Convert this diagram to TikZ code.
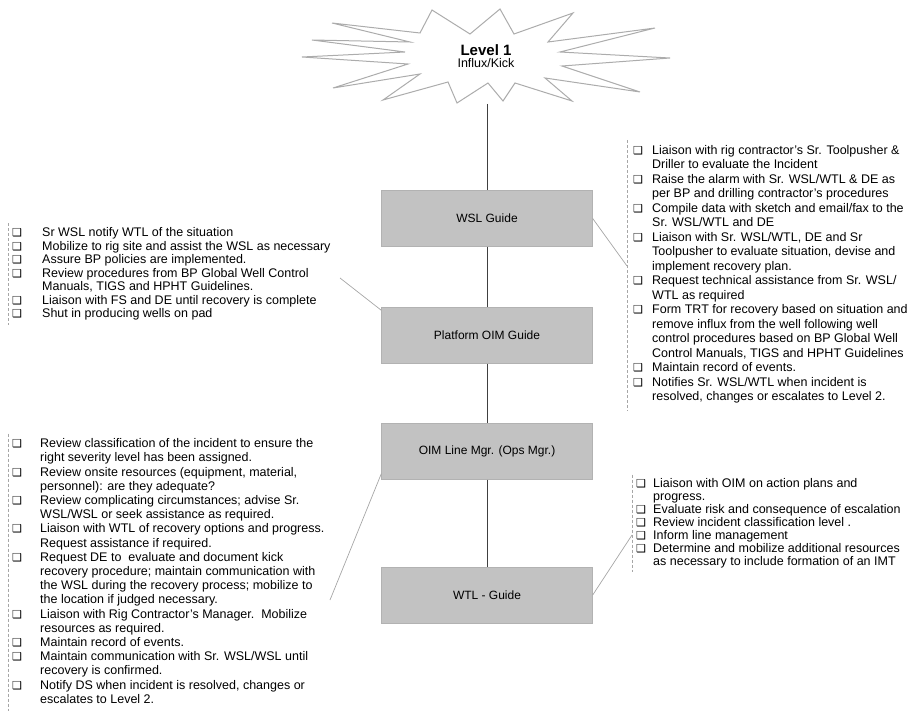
\documentclass[tikz,border=0pt]{standalone}
\usepackage{fontspec}
\setmainfont{Liberation Sans}
\newfontfamily\dejavu{DejaVu Sans}
\newcommand{\cb}{{\dejavu\fontsize{11}{11}\selectfont ❑}}
\begin{document}
\begin{tikzpicture}[x=1pt, y=-1pt,
    guide/.style={rectangle, draw=gray!60, fill=gray!48, minimum width=211pt, minimum height=56pt, font=\fontsize{12}{14}\selectfont},
    todo/.style={anchor=north west, inner sep=0pt, align=left},
    edge/.style={draw=gray!70, densely dashed, line width=0.6pt},
    burst/.style={draw=gray!65, line width=1pt, fill=white, line join=miter},
    link/.style={gray!70, line width=0.7pt},
    spine/.style={black!75, line width=0.7pt}
]
\useasboundingbox (0,0) rectangle (917,722);

% level 1 explosion
\draw[burst] (432,10) -- (470,34) -- (500,9) -- (514,34) -- (573,13) -- (548,42)
    -- (655,28) -- (560,52) -- (670,58) -- (562,66) -- (640,92) -- (545,78)
    -- (572,101) -- (515,83) -- (503,101) -- (488,83) -- (457,103) -- (448,82)
    -- (383,100) -- (420,74) -- (333,88) -- (408,64) -- (302,57) -- (405,52)
    -- (312,40) -- (410,42) -- (332,23) -- (420,33) -- cycle;
\node[align=center, inner sep=0pt] (lvl) at (486,56) {{\fontsize{15}{18}\selectfont\bfseries Level 1}\\{\fontsize{12.5}{13}\selectfont Influx/Kick}};
\coordinate (starbot) at (487,104);

% guide boxes
\node[guide] (wsl) at (487,218.5) {WSL Guide};
\node[guide] (plat) at (487,335.5) {Platform OIM Guide};
\node[guide] (oim) at (487,451.5) {OIM Line Mgr. (Ops Mgr.)};
\node[guide] (wtl) at (487,595) {WTL - Guide};

% right: WSL
\node[todo, font=\fontsize{12.5}{14.5}\selectfont] (wsllist) at (633,144) {\begin{tabular}{@{}p{19pt}@{}l@{}}
\cb & Liaison with rig contractor's Sr. Toolpusher \& \\
 & Driller to evaluate the Incident\\
\cb & Raise the alarm with Sr. WSL/WTL \& DE as\\
 & per BP and drilling contractor's procedures\\
\cb & Compile data with sketch and email/fax to the\\
 & Sr. WSL/WTL and DE\\
\cb & Liaison with Sr. WSL/WTL, DE and Sr\\
 & Toolpusher to evaluate situation, devise and\\
 & implement recovery plan.\\
\cb & Request technical assistance from Sr. WSL/\\
 & WTL as required\\
\cb & Form TRT for recovery based on situation and\\
 & remove influx from the well following well\\
 & control procedures based on BP Global Well\\
 & Control Manuals, TIGS and HPHT Guidelines\\
\cb & Maintain record of events.\\
\cb & Notifies Sr. WSL/WTL when incident is\\
 & resolved, changes or escalates to Level 2.
\end{tabular}};

% left: platform OIM
\node[todo, font=\fontsize{12.5}{13.5}\selectfont] (platlist) at (12,227) {\begin{tabular}{@{}p{30pt}@{}l@{}}
\cb & Sr WSL notify WTL of the situation\\
\cb & Mobilize to rig site and assist the WSL as necessary\\
\cb & Assure BP policies are implemented.\\
\cb & Review procedures from BP Global Well Control\\
 & Manuals, TIGS and HPHT Guidelines.\\
\cb & Liaison with FS and DE until recovery is complete\\
\cb & Shut in producing wells on pad
\end{tabular}};

% left: OIM line manager
\node[todo, font=\fontsize{12.5}{14.2}\selectfont] (oimlist) at (12,437.5) {\begin{tabular}{@{}p{28pt}@{}l@{}}
\cb & Review classification of the incident to ensure the\\
 & right severity level has been assigned.\\
\cb & Review onsite resources (equipment, material,\\
 & personnel): are they adequate?\\
\cb & Review complicating circumstances; advise Sr.\\
 & WSL/WSL or seek assistance as required.\\
\cb & Liaison with WTL of recovery options and progress.\\
 & Request assistance if required.\\
\cb & Request DE to\ \ evaluate and document kick\\
 & recovery procedure; maintain communication with\\
 & the WSL during the recovery process; mobilize to\\
 & the location if judged necessary.\\
\cb & Liaison with Rig Contractor's Manager.\ \ Mobilize\\
 & resources as required.\\
\cb & Maintain record of events.\\
\cb & Maintain communication with Sr. WSL/WSL until\\
 & recovery is confirmed.\\
\cb & Notify DS when incident is resolved, changes or\\
 & escalates to Level 2.
\end{tabular}};

% right: WTL
\node[todo, font=\fontsize{12.5}{12.9}\selectfont] (wtllist) at (636,478.5) {\begin{tabular}{@{}p{17pt}@{}l@{}}
\cb & Liaison with OIM on action plans and\\
 & progress.\\
\cb & Evaluate risk and consequence of escalation\\
\cb & Review incident classification level .\\
\cb & Inform line management\\
\cb & Determine and mobilize additional resources\\
 & as necessary to include formation of an IMT
\end{tabular}};

% list edges
\draw[edge] ([xshift=-6pt,yshift=4pt]wsllist.north west) -- ([xshift=-6pt,yshift=-6pt]wsllist.south west);
\draw[edge] ([xshift=-4pt,yshift=4pt]platlist.north west) -- ([xshift=-4pt,yshift=-3pt]platlist.south west);
\draw[edge] ([xshift=-4pt,yshift=4pt]oimlist.north west) -- ([xshift=-4pt,yshift=-3pt]oimlist.south west);
\draw[edge] ([xshift=-4pt,yshift=4pt]wtllist.north west) -- ([xshift=-4pt,yshift=-3pt]wtllist.south west);

% connectors
\coordinate (wslend) at (627,266);
\coordinate (platend) at (340,278);
\coordinate (oimend) at (330,600);
\coordinate (wtlend) at (632,535);
\draw[spine] (starbot) -- (wsl);
\draw[spine] (wsl) -- (plat);
\draw[spine] (plat) -- (oim);
\draw[spine] (oim) -- (wtl);
\draw[link] (wsl.east) -- (wslend);
\draw[link] ([yshift=-3pt]plat.north west) -- (platend);
\draw[link] ([yshift=6pt]oim.south west) -- (oimend);
\draw[link] (wtl.east) -- (wtlend);
\end{tikzpicture}
\end{document}
